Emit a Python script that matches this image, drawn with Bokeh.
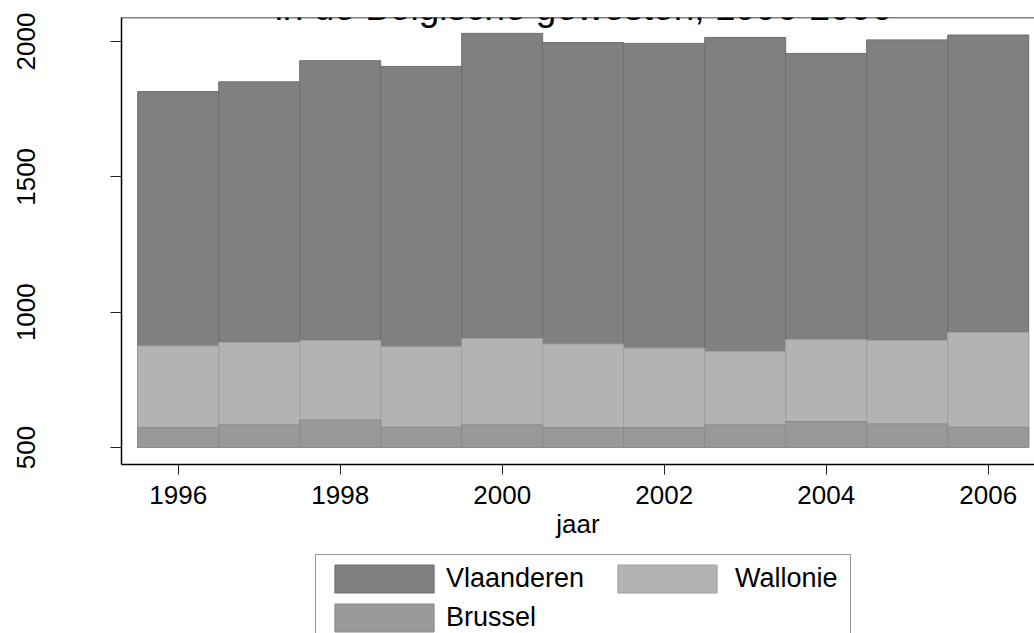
from bokeh.plotting import figure
from bokeh.layouts import column
from bokeh.models import Range1d, FixedTicker, Label, Legend, LegendItem, Span
from bokeh.embed import file_html
from bokeh.resources import INLINE

# ---- data ----
years = [1996, 1997, 1998, 1999, 2000, 2001, 2002, 2003, 2004, 2005, 2006]
vlaanderen = [1815, 1851, 1929, 1908, 2030, 1996, 1993, 2015, 1956, 2006, 2024]
wallonie = [875, 888, 895, 872, 903, 882, 867, 855, 898, 895, 925]
brussel = [573, 584, 602, 575, 584, 573, 573, 584, 596, 587, 575]
series_names = ["Vlaanderen", "Wallonie", "Brussel"]
x_ticks = [1996, 1998, 2000, 2002, 2004, 2006]
y_ticks = [500, 1000, 1500, 2000]
base_value = 500
title_text = "in de Belgische gewesten, 1996-2006"
x_label = "jaar"

FONT = "Liberation Sans"
styles = [
    dict(fill_color="#808080", line_color="#6e6e6e"),
    dict(fill_color="#b3b3b3", line_color="#a0a0a0"),
    dict(fill_color="#999999", line_color="#8a8a8a"),
]

p = figure(width=1034, height=553, output_backend="svg", toolbar_location=None,
           x_range=Range1d(1995.3, 2006.5716), y_range=Range1d(437.2, 2088.7),
           min_border_left=121, min_border_right=0, min_border_top=17,
           min_border_bottom=89)

r_v = p.vbar(x=years, top=vlaanderen, bottom=base_value, width=1.0, line_width=1, **styles[0])
r_w = p.vbar(x=years, top=wallonie, bottom=base_value, width=1.0, line_width=1, **styles[1])
r_b = p.vbar(x=years, top=brussel, bottom=base_value, width=1.0, line_width=1, **styles[2])

p.xgrid.visible = False
p.ygrid.visible = False
p.outline_line_color = None
p.background_fill_color = "white"
p.border_fill_color = "white"

# x axis
xa = p.xaxis[0]
xa.ticker = FixedTicker(ticks=x_ticks)
xa.axis_label = x_label
xa.axis_label_text_font = FONT
xa.axis_label_text_font_size = "26px"
xa.axis_label_text_font_style = "normal"
xa.axis_label_text_color = "black"
xa.axis_label_standoff = 2
xa.major_label_text_font = FONT
xa.major_label_text_font_size = "26px"
xa.major_label_text_color = "black"
xa.major_label_standoff = 11
xa.major_tick_out = 10
xa.major_tick_in = 0
xa.minor_tick_out = 0
xa.minor_tick_in = 0
xa.axis_line_color = "black"
xa.axis_line_width = 1.5
xa.major_tick_line_color = "#222222"

# y axis
ya = p.yaxis[0]
ya.ticker = FixedTicker(ticks=y_ticks)
ya.major_label_orientation = "vertical"
ya.major_label_text_font = FONT
ya.major_label_text_font_size = "26px"
ya.major_label_text_color = "black"
ya.major_label_standoff = 75
ya.major_tick_out = 11
ya.major_tick_in = 0
ya.minor_tick_out = 0
ya.minor_tick_in = 0
ya.axis_line_color = "black"
ya.axis_line_width = 1.5
ya.major_tick_line_color = "#222222"

# top border of plot region
p.add_layout(Span(location=2088.7, dimension="width", line_color="black", line_width=1.5))

# title (second line, partly cut off at top)
p.add_layout(Label(x=2001.0, y=2123.8, text=title_text, text_align="center",
                   text_baseline="alphabetic", text_font=FONT,
                   text_font_size="37px", text_color="black"))

# ---- legend strip below the chart ----
leg = figure(width=1034, height=80, output_backend="svg", toolbar_location=None,
             x_range=Range1d(0, 1), y_range=Range1d(0, 1),
             min_border_left=121, min_border_right=0, min_border_top=0,
             min_border_bottom=0, x_axis_location=None, y_axis_location=None)
leg.xgrid.visible = False
leg.ygrid.visible = False
leg.outline_line_color = None
leg.border_fill_color = "white"
leg.background_fill_color = "white"

# invisible stand-in renderers that only supply the legend swatch styles
dummies = []
for s in styles:
    d = leg.vbar(x=[0.5], top=[0.5], width=0.1, line_width=1, **s)
    d.visible = False
    dummies.append(d)

common = dict(orientation="vertical", glyph_width=124, glyph_height=35,
              label_text_font=FONT, label_text_font_size="27px",
              label_text_color="black", label_height=31, padding=6, spacing=4,
              margin=0, click_policy="none")

# left column (Vlaanderen, Brussel) with the framing box spanning both columns
legend_a = Legend(items=[LegendItem(label=series_names[0], renderers=[dummies[0]]),
                         LegendItem(label=series_names[2], renderers=[dummies[2]])],
                  location=(194, -9), label_width=398, label_standoff=0,
                  border_line_color="#333333", border_line_width=1.5,
                  background_fill_color="white", background_fill_alpha=1.0, **common)
# right column (Wallonie)
legend_b = Legend(items=[LegendItem(label=series_names[1], renderers=[dummies[1]])],
                  location=(484, 37), label_standoff=6, border_line_color=None,
                  background_fill_alpha=0.0, **common)
leg.add_layout(legend_a, "center")
leg.add_layout(legend_b, "center")

root = column(p, leg, spacing=0)

open("out.html", "w").write(file_html(root, INLINE))
